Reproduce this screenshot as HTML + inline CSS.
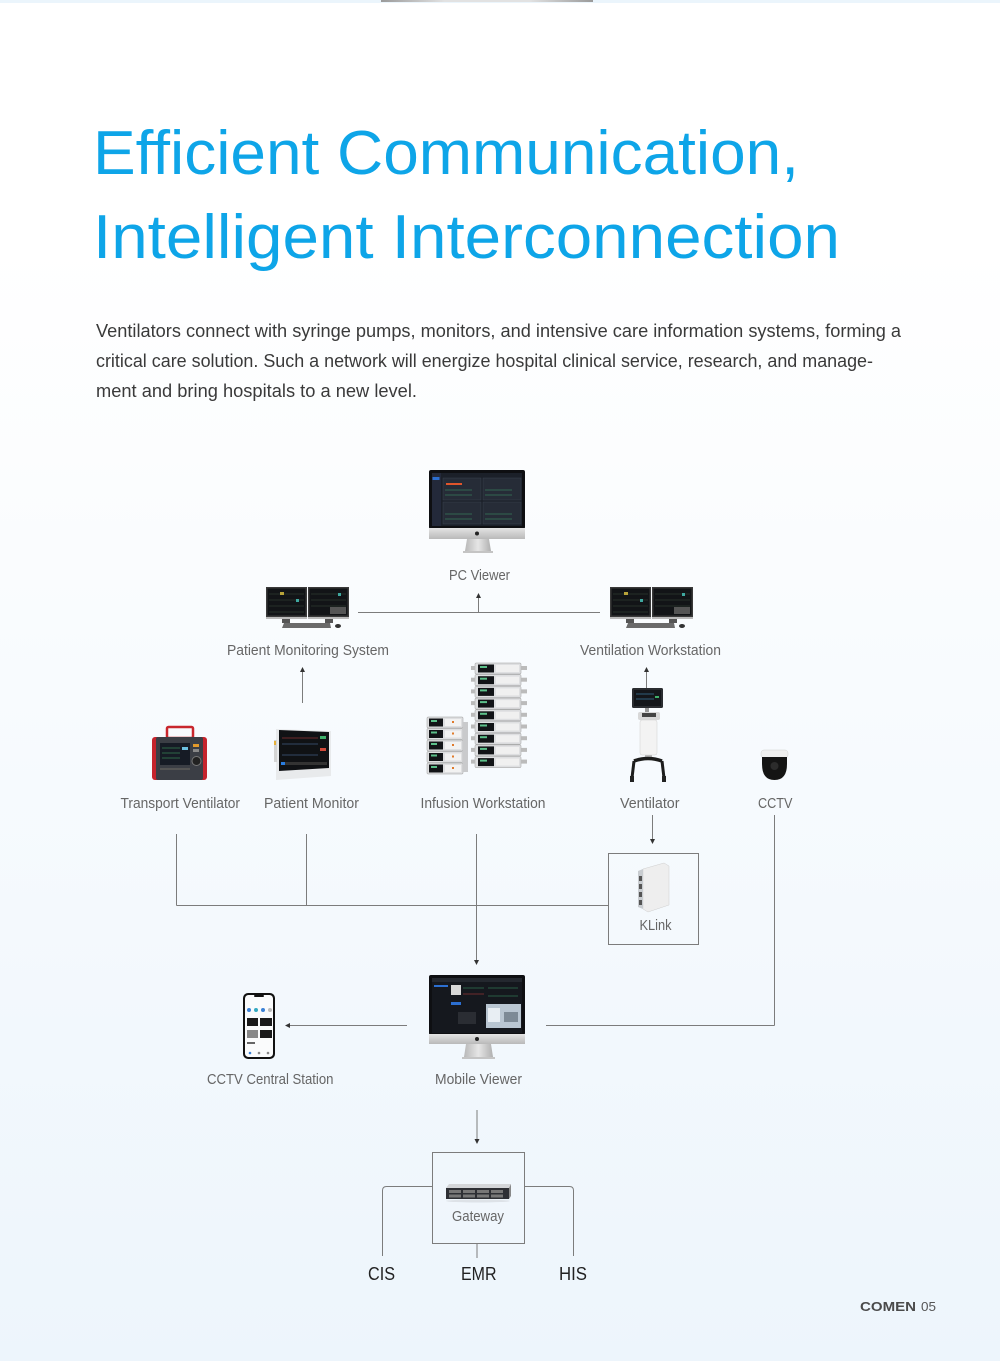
<!DOCTYPE html>
<html><head><meta charset="utf-8">
<style>
html,body{margin:0;padding:0;width:1000px;height:1361px;overflow:hidden;background:#fff;}
svg{display:block;}
text{font-family:"Liberation Sans",sans-serif;}
</style></head>
<body>
<svg width="1000" height="1361" viewBox="0 0 1000 1361" xmlns="http://www.w3.org/2000/svg">
<defs>
<linearGradient id="bg" x1="0" y1="0" x2="0" y2="1">
<stop offset="0" stop-color="#ffffff"/>
<stop offset="0.18" stop-color="#ffffff"/>
<stop offset="1" stop-color="#edf5fc"/>
</linearGradient>
<linearGradient id="topbar" x1="0" y1="0" x2="1" y2="0">
<stop offset="0" stop-color="#9a9a9a"/>
<stop offset="0.3" stop-color="#e2e2e2"/>
<stop offset="0.7" stop-color="#e2e2e2"/>
<stop offset="1" stop-color="#9a9a9a"/>
</linearGradient>
<linearGradient id="silver" x1="0" y1="0" x2="0" y2="1">
<stop offset="0" stop-color="#e4e4e4"/>
<stop offset="1" stop-color="#b9b9b9"/>
</linearGradient>
<linearGradient id="stand" x1="0" y1="0" x2="1" y2="0">
<stop offset="0" stop-color="#b8b8b8"/>
<stop offset="0.5" stop-color="#e6e6e6"/>
<stop offset="1" stop-color="#b0b0b0"/>
</linearGradient>
</defs>
<rect width="1000" height="1361" fill="url(#bg)"/>
<rect x="0" y="0" width="1000" height="3" fill="#ebf5fc"/>
<rect x="381" y="0" width="212" height="2" fill="url(#topbar)"/>

<!-- Title -->
<text x="93" y="174" font-size="62" fill="#0ea5e8" textLength="706" lengthAdjust="spacingAndGlyphs">Efficient Communication,</text>
<text x="93" y="258" font-size="62" fill="#0ea5e8" textLength="747" lengthAdjust="spacingAndGlyphs">Intelligent Interconnection</text>

<!-- Paragraph -->
<g font-size="18.5" fill="#3a3a3a">
<text x="96" y="337" textLength="805" lengthAdjust="spacingAndGlyphs">Ventilators connect with syringe pumps, monitors, and intensive care information systems, forming a</text>
<text x="96" y="367" textLength="777" lengthAdjust="spacingAndGlyphs">critical care solution. Such a network will energize hospital clinical service, research, and manage-</text>
<text x="96" y="397" textLength="321" lengthAdjust="spacingAndGlyphs">ment and bring hospitals to a new level.</text>
</g>

<!-- Connectors -->
<g stroke="#7c7c7c" stroke-width="1" fill="none">
<line x1="358" y1="612.5" x2="600" y2="612.5"/>
<line x1="478.5" y1="612.5" x2="478.5" y2="597"/>
<line x1="302.5" y1="703" x2="302.5" y2="671"/>
<line x1="646.5" y1="688" x2="646.5" y2="671"/>
<line x1="652.5" y1="815" x2="652.5" y2="840"/>
<line x1="176.5" y1="834" x2="176.5" y2="905.5"/>
<line x1="306.5" y1="834" x2="306.5" y2="905.5"/>
<line x1="176.5" y1="905.5" x2="608" y2="905.5"/>
<line x1="476.5" y1="834" x2="476.5" y2="961"/>
<line x1="774.5" y1="815" x2="774.5" y2="1025.5"/>
<line x1="546" y1="1025.5" x2="774.5" y2="1025.5"/>
<line x1="407" y1="1025.5" x2="289" y2="1025.5"/>
<line x1="477" y1="1110" x2="477" y2="1140"/>
<rect x="608.5" y="853.5" width="90" height="91"/>
<rect x="432.5" y="1152.5" width="92" height="91"/>
<path d="M432.5 1186.5 H386.5 Q382.5 1186.5 382.5 1190.5 V1256"/>
<path d="M524.5 1186.5 H569.5 Q573.5 1186.5 573.5 1190.5 V1256"/>
<line x1="477" y1="1243.5" x2="477" y2="1258"/>
</g>
<g fill="#333">
<polygon points="476,598 481,598 478.5,593"/>
<polygon points="300,672 305,672 302.5,667"/>
<polygon points="644,672 649,672 646.5,667"/>
<polygon points="650,839 655,839 652.5,844"/>
<polygon points="474,960 479,960 476.5,965"/>
<polygon points="290,1023 290,1028 285,1025.5"/>
<polygon points="474.5,1139 479.5,1139 477,1144"/>
</g>

<!-- PC Viewer iMac -->
<g>
<rect x="429" y="470" width="96" height="59" rx="2" fill="#0e0f12"/>
<rect x="432" y="473" width="90" height="53" fill="#1b2029"/>
<rect x="432" y="473" width="9" height="53" fill="#23293a"/>
<rect x="432.5" y="477" width="7" height="3" fill="#2c6fd1"/>
<g fill="#262c37" stroke="#3b4250" stroke-width="0.5">
<rect x="443" y="478" width="38" height="22"/><rect x="483" y="478" width="38" height="22"/>
<rect x="443" y="502" width="38" height="22"/><rect x="483" y="502" width="38" height="22"/>
</g>
<rect x="446" y="483" width="16" height="2" fill="#e0552b"/>
<g stroke="#3fa06a" stroke-width="0.6">
<line x1="445" y1="490" x2="472" y2="490"/><line x1="485" y1="490" x2="512" y2="490"/>
<line x1="445" y1="514" x2="472" y2="514"/><line x1="485" y1="514" x2="512" y2="514"/>
<line x1="445" y1="495" x2="472" y2="495"/><line x1="485" y1="495" x2="512" y2="495"/>
<line x1="445" y1="519" x2="472" y2="519"/><line x1="485" y1="519" x2="512" y2="519"/>
</g>
<rect x="429" y="528" width="96" height="11" fill="url(#silver)"/>
<circle cx="477" cy="533.5" r="2" fill="#222"/>
<polygon points="467,539 489,539 491,551 465,551" fill="url(#stand)"/>
<rect x="463" y="551" width="30" height="2" fill="#c4c4c4"/>
</g>

<!-- Dual monitors (Patient Monitoring System) -->
<g id="dual">
<rect x="266" y="587" width="41" height="32" fill="#3a3a3a"/>
<rect x="267.5" y="588.5" width="38" height="27" fill="#121417"/>
<rect x="308" y="587" width="41" height="32" fill="#3a3a3a"/>
<rect x="309.5" y="588.5" width="38" height="27" fill="#121417"/>
<g stroke="#3d4a3d" stroke-width="0.6">
<line x1="269" y1="594" x2="304" y2="594"/><line x1="269" y1="600" x2="304" y2="600"/><line x1="269" y1="606" x2="304" y2="606"/><line x1="269" y1="612" x2="304" y2="612"/>
<line x1="311" y1="594" x2="346" y2="594"/><line x1="311" y1="600" x2="346" y2="600"/><line x1="311" y1="606" x2="346" y2="606"/>
</g>
<rect x="280" y="592" width="4" height="3" fill="#b8a33a"/>
<rect x="296" y="599" width="3" height="3" fill="#3fa8a0"/>
<rect x="338" y="593" width="3" height="3" fill="#3fa8a0"/>
<rect x="330" y="607" width="16" height="7" fill="#555"/>
<rect x="266" y="617" width="41" height="2" fill="#bbb"/>
<rect x="308" y="617" width="41" height="2" fill="#bbb"/>
<rect x="282" y="619" width="8" height="4" fill="#555"/>
<rect x="325" y="619" width="8" height="4" fill="#555"/>
<polygon points="284,623 330,623 331,628 282,628" fill="#6a6a6a"/>
<ellipse cx="338" cy="626" rx="3" ry="2" fill="#333"/>
</g>
<use href="#dual" x="344" y="0"/>

<!-- Transport Ventilator -->
<g>
<rect x="167" y="727" width="26" height="11" rx="1.5" fill="none" stroke="#c8262d" stroke-width="2.5"/>
<rect x="152" y="737" width="55" height="43" rx="3" fill="#c5232c"/>
<rect x="156" y="737" width="47" height="43" rx="2" fill="#3b3e45"/>
<rect x="160" y="743" width="30" height="22" fill="#161b25"/>
<g stroke="#47b36a" stroke-width="0.6"><line x1="162" y1="748" x2="180" y2="748"/><line x1="162" y1="753" x2="180" y2="753"/><line x1="162" y1="758" x2="180" y2="758"/></g>
<rect x="182" y="747" width="6" height="3" fill="#6cc0e0"/>
<rect x="193" y="744" width="6" height="3" fill="#e39a2b"/>
<rect x="193" y="749" width="6" height="3" fill="#888"/>
<circle cx="196.5" cy="761" r="4.5" fill="#222" stroke="#777" stroke-width="1"/>
<rect x="160" y="768" width="30" height="2" fill="#555"/>
</g>

<!-- Patient Monitor -->
<g>
<polygon points="276,729 331,731 331,776 276,780" fill="#e8eaec"/>
<polygon points="279,730 329,732 329,768 279,771" fill="#101215"/>
<g stroke="#5a7fb5" stroke-width="0.6"><line x1="282" y1="744" x2="318" y2="744"/><line x1="282" y1="755" x2="318" y2="755"/></g>
<g stroke="#c84040" stroke-width="0.6"><line x1="282" y1="738" x2="318" y2="738"/></g>
<rect x="320" y="736" width="6" height="3" fill="#3fb06a"/>
<rect x="320" y="748" width="6" height="3" fill="#d04a3a"/>
<rect x="281" y="762" width="46" height="3" fill="#333"/>
<rect x="281" y="762" width="4" height="3" fill="#2a7de0"/>
<rect x="274" y="740" width="3" height="22" fill="#d4d4d4"/>
<rect x="274" y="741" width="2" height="4" fill="#e6b13b"/>
</g>

<!-- Infusion Workstation -->
<g id="pump">
<rect x="427" y="717" width="36" height="11" rx="1" fill="#dedfe1" stroke="#9a9a9a" stroke-width="0.5"/>
<rect x="429" y="718.5" width="14" height="8" fill="#121417"/>
<rect x="431" y="720" width="6" height="2" fill="#5cc08a"/>
<rect x="445" y="719" width="16" height="7" fill="#f2f2f2"/>
<rect x="452" y="721" width="2" height="2" fill="#e07a2b"/>
</g>
<use href="#pump" x="0" y="11.5"/>
<use href="#pump" x="0" y="23"/>
<use href="#pump" x="0" y="34.5"/>
<use href="#pump" x="0" y="46"/>
<rect x="463" y="722" width="5" height="50" fill="#c9cacc"/>
<g id="tall">
<rect x="475" y="663" width="46" height="11" rx="1" fill="#dedfe1" stroke="#9a9a9a" stroke-width="0.5"/>
<rect x="478" y="664.5" width="16" height="8" fill="#121417"/>
<rect x="480" y="666" width="7" height="2" fill="#5cc08a"/>
<rect x="496" y="665" width="23" height="7" fill="#f0f0f0"/>
<rect x="521" y="666" width="6" height="4" fill="#bbb"/>
<rect x="471" y="666" width="4" height="4" fill="#bbb"/>
</g>
<use href="#tall" x="0" y="11.7"/>
<use href="#tall" x="0" y="23.4"/>
<use href="#tall" x="0" y="35.1"/>
<use href="#tall" x="0" y="46.8"/>
<use href="#tall" x="0" y="58.5"/>
<use href="#tall" x="0" y="70.2"/>
<use href="#tall" x="0" y="81.9"/>
<use href="#tall" x="0" y="93.6"/>

<!-- Ventilator -->
<g>
<rect x="632" y="688" width="31" height="20" rx="1.5" fill="#2a2c30"/>
<rect x="634" y="690" width="27" height="16" fill="#14161a"/>
<g stroke="#4fa8d8" stroke-width="0.5"><line x1="636" y1="694" x2="654" y2="694"/><line x1="636" y1="699" x2="654" y2="699"/></g>
<rect x="655" y="696" width="4" height="2" fill="#3fb06a"/>
<rect x="645" y="708" width="4" height="4" fill="#999"/>
<rect x="638" y="712" width="22" height="8" rx="2" fill="#d8d8d8"/>
<rect x="642" y="713" width="14" height="4" fill="#444"/>
<rect x="640" y="720" width="17" height="35" rx="2" fill="#f3f3f3" stroke="#d0d0d0" stroke-width="0.5"/>
<rect x="645" y="755" width="7" height="4" fill="#bbb"/>
<path d="M634 761 Q648 756 662 761" stroke="#1c1c1c" stroke-width="3.5" fill="none"/>
<line x1="634" y1="761" x2="632" y2="778" stroke="#1c1c1c" stroke-width="3"/>
<line x1="662" y1="761" x2="664" y2="778" stroke="#1c1c1c" stroke-width="3"/>
<rect x="630" y="776" width="4" height="6" fill="#222"/>
<rect x="662" y="776" width="4" height="6" fill="#222"/>
</g>

<!-- CCTV -->
<g>
<rect x="761" y="750" width="27" height="8" rx="3" fill="#efefef" stroke="#cfcfcf" stroke-width="0.5"/>
<path d="M762 757 H787 V764 Q787 780 774.5 780 Q762 780 762 764 Z" fill="#141414"/>
<circle cx="774.5" cy="766" r="4" fill="#2c2c2c"/>
</g>

<!-- KLink device -->
<g>
<polygon points="643,869 664,863 669,866 669,905 648,912 643,909" fill="#eeeeee" stroke="#cfcfcf" stroke-width="0.5"/>
<polygon points="638,871 643,869 643,909 638,907" fill="#c8ccd0"/>
<rect x="639" y="876" width="3" height="5" fill="#555"/>
<rect x="639" y="884" width="3" height="5" fill="#555"/>
<rect x="639" y="892" width="3" height="5" fill="#555"/>
<rect x="639" y="900" width="3" height="5" fill="#555"/>
</g>

<!-- Mobile Viewer iMac -->
<g>
<rect x="429" y="975" width="96" height="60" rx="2" fill="#0e0f12"/>
<rect x="432" y="978" width="90" height="55" fill="#15181e"/>
<rect x="432" y="978" width="90" height="4" fill="#24282f"/>
<rect x="434" y="985" width="14" height="2" fill="#2c6fd1"/>
<rect x="451" y="985" width="10" height="10" fill="#d8d8d8"/>
<rect x="451" y="1002" width="10" height="3" fill="#2c6fd1"/>
<g stroke="#3fa06a" stroke-width="0.6"><line x1="463" y1="988" x2="484" y2="988"/><line x1="488" y1="988" x2="518" y2="988"/><line x1="488" y1="996" x2="518" y2="996"/></g>
<g stroke="#c84040" stroke-width="0.6"><line x1="463" y1="994" x2="484" y2="994"/></g>
<rect x="458" y="1012" width="18" height="12" fill="#2a2d33"/>
<rect x="486" y="1004" width="35" height="24" fill="#b9c6d2"/>
<rect x="488" y="1008" width="12" height="14" fill="#e8eef3"/>
<rect x="504" y="1012" width="14" height="10" fill="#7d8a96"/>
<rect x="429" y="1034" width="96" height="10" fill="url(#silver)"/>
<circle cx="477" cy="1039" r="2" fill="#222"/>
<polygon points="466,1044 491,1044 493,1057 464,1057" fill="url(#stand)"/>
<rect x="462" y="1057" width="33" height="2" fill="#c4c4c4"/>
</g>

<!-- Phone -->
<g>
<rect x="243" y="993" width="32" height="66" rx="5" fill="#111"/>
<rect x="245" y="995" width="28" height="62" rx="3.5" fill="#fafbfc"/>
<rect x="254" y="995" width="10" height="2" rx="1" fill="#111"/>
<circle cx="249" cy="1010" r="2" fill="#3b82d6"/>
<circle cx="256" cy="1010" r="2" fill="#35a9c0"/>
<circle cx="263" cy="1010" r="2" fill="#3b82d6"/>
<circle cx="270" cy="1010" r="2" fill="#bbb"/>
<rect x="247" y="1018" width="11" height="8" fill="#1a1a1a"/>
<rect x="260" y="1018" width="12" height="8" fill="#1a1a1a"/>
<rect x="247" y="1030" width="11" height="8" fill="#888"/>
<rect x="260" y="1030" width="12" height="8" fill="#1a1a1a"/>
<rect x="247" y="1042" width="8" height="2" fill="#666"/>
<circle cx="250" cy="1053" r="1.3" fill="#3b82d6"/>
<circle cx="259" cy="1053" r="1.3" fill="#888"/>
<circle cx="268" cy="1053" r="1.3" fill="#888"/>
</g>

<!-- Gateway server -->
<g>
<polygon points="449,1184 511,1184 509,1188 446,1188" fill="#d4d6d9"/>
<rect x="446" y="1188" width="63" height="11" fill="#2e3035"/>
<polygon points="509,1188 511,1184 511,1196 509,1199" fill="#888"/>
<g fill="#777"><rect x="449" y="1190" width="12" height="3"/><rect x="463" y="1190" width="12" height="3"/><rect x="477" y="1190" width="12" height="3"/><rect x="491" y="1190" width="12" height="3"/>
<rect x="449" y="1194.5" width="12" height="3"/><rect x="463" y="1194.5" width="12" height="3"/><rect x="477" y="1194.5" width="12" height="3"/><rect x="491" y="1194.5" width="12" height="3"/></g>
<ellipse cx="478" cy="1201" rx="32" ry="1.5" fill="#d0d4d8" opacity="0.6"/>
</g>

<!-- Labels -->
<g font-size="14.5" fill="#666">
<text x="449" y="580" textLength="61" lengthAdjust="spacingAndGlyphs">PC Viewer</text>
<text x="227" y="655" textLength="162" lengthAdjust="spacingAndGlyphs">Patient Monitoring System</text>
<text x="580" y="655" textLength="141" lengthAdjust="spacingAndGlyphs">Ventilation Workstation</text>
<text x="120.5" y="808" textLength="119.5" lengthAdjust="spacingAndGlyphs">Transport Ventilator</text>
<text x="264" y="808" textLength="95" lengthAdjust="spacingAndGlyphs">Patient Monitor</text>
<text x="420.5" y="808" textLength="125" lengthAdjust="spacingAndGlyphs">Infusion Workstation</text>
<text x="620" y="808" textLength="59.5" lengthAdjust="spacingAndGlyphs">Ventilator</text>
<text x="758" y="808" textLength="34.5" lengthAdjust="spacingAndGlyphs">CCTV</text>
<text x="639.5" y="930" textLength="32" lengthAdjust="spacingAndGlyphs">KLink</text>
<text x="207" y="1084" textLength="126.5" lengthAdjust="spacingAndGlyphs">CCTV Central Station</text>
<text x="435" y="1084" textLength="87" lengthAdjust="spacingAndGlyphs">Mobile Viewer</text>
<text x="452" y="1221" textLength="52" lengthAdjust="spacingAndGlyphs">Gateway</text>
</g>
<g font-size="18.5" fill="#222">
<text x="368" y="1280" textLength="27" lengthAdjust="spacingAndGlyphs">CIS</text>
<text x="461" y="1280" textLength="35.5" lengthAdjust="spacingAndGlyphs">EMR</text>
<text x="559" y="1280" textLength="28" lengthAdjust="spacingAndGlyphs">HIS</text>
</g>

<!-- Footer -->
<text x="860" y="1311" font-size="12.5" font-weight="bold" fill="#4a4a4a" textLength="56" lengthAdjust="spacingAndGlyphs">COMEN</text>
<text x="921" y="1311" font-size="13" fill="#555" textLength="15" lengthAdjust="spacingAndGlyphs">05</text>
</svg>
</body></html>
